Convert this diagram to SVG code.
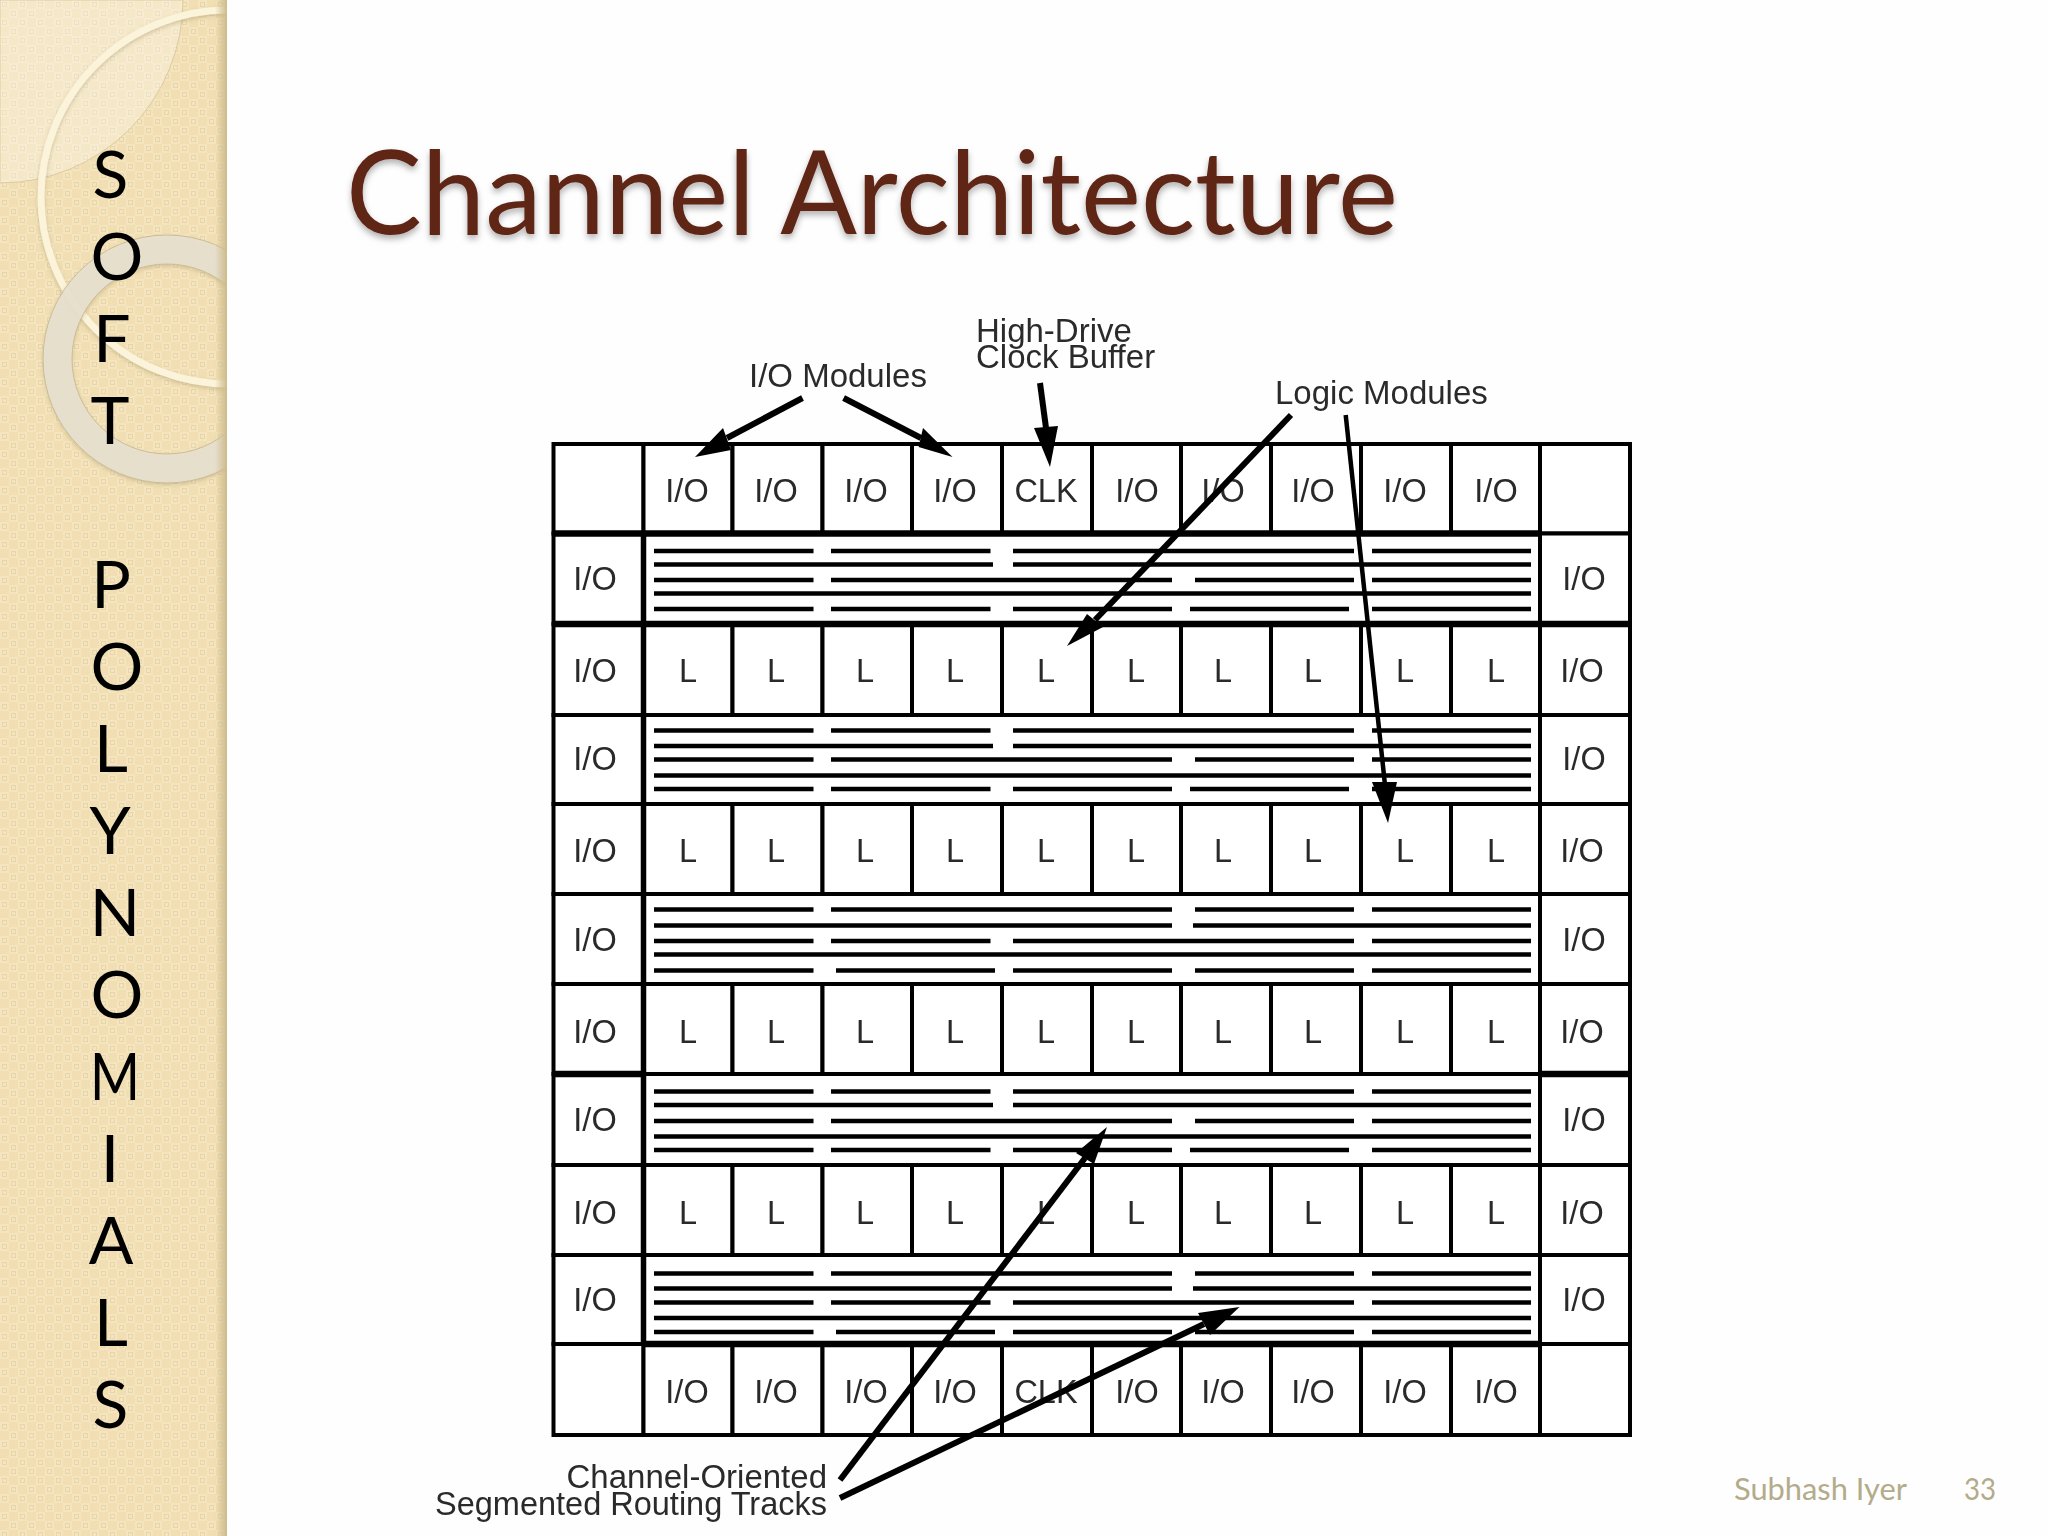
<svg xmlns="http://www.w3.org/2000/svg" width="2048" height="1536" viewBox="0 0 2048 1536">
<style>
.c{fill:#fff;stroke:#000;stroke-width:4}
.t{font-family:"Liberation Sans",Arial,sans-serif;font-size:32.5px;fill:#2b2b2b;text-anchor:middle}
.lab{font-family:"Liberation Sans",Arial,sans-serif;font-size:33px;fill:#2b2b2b}
.tr{stroke:#000;stroke-width:4.5;fill:none}
.hv{stroke:#000;fill:none}
.ar{stroke:#000;stroke-width:6;fill:none}
.hd{fill:#000}
.side{font-family:Lato,"Open Sans",sans-serif;font-size:66px;fill:#000;text-anchor:middle}
.foot{font-family:Lato,"Open Sans",sans-serif;font-size:31px;fill:#b3ab8a}
</style>
<defs>
<pattern id="tex" width="18" height="18" patternUnits="userSpaceOnUse">
<rect width="18" height="18" fill="#f1dfb3"/>
<rect width="9" height="9" fill="#f4e5c0"/>
<rect x="9" y="9" width="9" height="9" fill="#f4e5c0"/>
<rect x="2.5" y="2.5" width="4" height="4" fill="none" stroke="#e8d6a6" stroke-width="1"/>
<rect x="11.5" y="11.5" width="4" height="4" fill="none" stroke="#e8d6a6" stroke-width="1"/>
</pattern>
<linearGradient id="edge" x1="0" x2="1" y1="0" y2="0">
<stop offset="0" stop-color="#cdbb8c" stop-opacity="0"/>
<stop offset="1" stop-color="#cdbb8c"/>
</linearGradient>
<clipPath id="sb"><rect width="227" height="1536"/></clipPath>
<filter id="sh" x="-5%" y="-20%" width="110%" height="140%"><feDropShadow dx="0" dy="4" stdDeviation="3" flood-color="#000" flood-opacity=".3"/></filter>
<filter id="rs" x="-10%" y="-10%" width="120%" height="120%"><feDropShadow dx="0" dy="2" stdDeviation="2" flood-color="#8a7a50" flood-opacity=".35"/></filter>
<filter id="soft" x="0" y="0" width="100%" height="100%" filterUnits="userSpaceOnUse"><feGaussianBlur stdDeviation="0.6"/></filter>
</defs>
<rect width="2048" height="1536" fill="#fefefe"/>
<g id="sidebar" clip-path="url(#sb)">
<rect width="227" height="1536" fill="url(#tex)"/>
<path d="M0 0H183A183 183 0 0 1 0 183Z" fill="#fff" fill-opacity=".28" stroke="#dccb9f" stroke-width="1"/>
<circle cx="228" cy="197" r="187" fill="none" stroke="#fbf3da" stroke-width="7" filter="url(#rs)"/>
<circle cx="167" cy="359" r="109.5" fill="none" stroke="#e8e1d0" stroke-opacity=".9" stroke-width="29" filter="url(#rs)"/>
<circle cx="167" cy="359" r="124" fill="none" stroke="#cbbd96" stroke-width="1"/>
<circle cx="167" cy="359" r="95" fill="none" stroke="#cbbd96" stroke-width="1"/>
<rect x="215" width="12" height="1536" fill="url(#edge)"/>
</g>
<g id="sidebar-text">
<text class="side" x="110.5" y="198">S</text>
<text class="side" x="117" y="280">O</text>
<text class="side" x="112" y="362">F</text>
<text class="side" x="110" y="444">T</text>
<text class="side" x="111" y="608">P</text>
<text class="side" x="117" y="690">O</text>
<text class="side" x="111" y="772">L</text>
<text class="side" x="110" y="854">Y</text>
<text class="side" x="115" y="936">N</text>
<text class="side" x="117" y="1018">O</text>
<text class="side" x="115" y="1100" textLength="50" lengthAdjust="spacingAndGlyphs">M</text>
<text class="side" x="110" y="1182">I</text>
<text class="side" x="111" y="1264">A</text>
<text class="side" x="111" y="1346">L</text>
<text class="side" x="110.5" y="1428">S</text>
</g>
<text id="title" x="346" y="234" font-family="Lato,'Open Sans',sans-serif" font-size="116" fill="#5e2517" textLength="1052" lengthAdjust="spacingAndGlyphs" filter="url(#sh)">Channel Architecture</text>

<g id="diagram" filter="url(#soft)">
<g id="row-top">
<g id="t0"><rect class="c" x="553.5" y="444" width="90" height="89.5"/></g>
<g id="t1"><rect class="c" x="643.5" y="444" width="89" height="89.5"/><text class="t" x="687" y="502">I/O</text></g>
<g id="t2"><rect class="c" x="732.5" y="444" width="90" height="89.5"/><text class="t" x="776" y="502">I/O</text></g>
<g id="t3"><rect class="c" x="822.5" y="444" width="89.5" height="89.5"/><text class="t" x="866" y="502">I/O</text></g>
<g id="t4"><rect class="c" x="912" y="444" width="90" height="89.5"/><text class="t" x="955" y="502">I/O</text></g>
<g id="t5"><rect class="c" x="1002" y="444" width="90" height="89.5"/><text class="t" x="1046" y="502">CLK</text></g>
<g id="t6"><rect class="c" x="1092" y="444" width="89" height="89.5"/><text class="t" x="1137" y="502">I/O</text></g>
<g id="t7"><rect class="c" x="1181" y="444" width="90" height="89.5"/><text class="t" x="1223" y="502">I/O</text></g>
<g id="t8"><rect class="c" x="1271" y="444" width="90" height="89.5"/><text class="t" x="1313" y="502">I/O</text></g>
<g id="t9"><rect class="c" x="1361" y="444" width="90" height="89.5"/><text class="t" x="1405" y="502">I/O</text></g>
<g id="t10"><rect class="c" x="1451" y="444" width="89" height="89.5"/><text class="t" x="1496" y="502">I/O</text></g>
<g id="t11"><rect class="c" x="1540" y="444" width="90" height="89.5"/></g>
</g>

<g id="row-bottom">
<g id="b0"><rect class="c" x="553.5" y="1344" width="90" height="91"/></g>
<g id="b1"><rect class="c" x="643.5" y="1344" width="89" height="91"/><text class="t" x="687" y="1403">I/O</text></g>
<g id="b2"><rect class="c" x="732.5" y="1344" width="90" height="91"/><text class="t" x="776" y="1403">I/O</text></g>
<g id="b3"><rect class="c" x="822.5" y="1344" width="89.5" height="91"/><text class="t" x="866" y="1403">I/O</text></g>
<g id="b4"><rect class="c" x="912" y="1344" width="90" height="91"/><text class="t" x="955" y="1403">I/O</text></g>
<g id="b5"><rect class="c" x="1002" y="1344" width="90" height="91"/><text class="t" x="1046" y="1403">CLK</text></g>
<g id="b6"><rect class="c" x="1092" y="1344" width="89" height="91"/><text class="t" x="1137" y="1403">I/O</text></g>
<g id="b7"><rect class="c" x="1181" y="1344" width="90" height="91"/><text class="t" x="1223" y="1403">I/O</text></g>
<g id="b8"><rect class="c" x="1271" y="1344" width="90" height="91"/><text class="t" x="1313" y="1403">I/O</text></g>
<g id="b9"><rect class="c" x="1361" y="1344" width="90" height="91"/><text class="t" x="1405" y="1403">I/O</text></g>
<g id="b10"><rect class="c" x="1451" y="1344" width="89" height="91"/><text class="t" x="1496" y="1403">I/O</text></g>
<g id="b11"><rect class="c" x="1540" y="1344" width="90" height="91"/></g>
</g>

<g id="logic-row-1">
<g id="l1-0"><rect class="c" x="553.5" y="624" width="90" height="91"/><text class="t" x="595" y="682">I/O</text></g>
<g id="l1-1"><rect class="c" x="643.5" y="624" width="89" height="91"/><text class="t" x="688" y="682">L</text></g>
<g id="l1-2"><rect class="c" x="732.5" y="624" width="90" height="91"/><text class="t" x="776" y="682">L</text></g>
<g id="l1-3"><rect class="c" x="822.5" y="624" width="89.5" height="91"/><text class="t" x="865" y="682">L</text></g>
<g id="l1-4"><rect class="c" x="912" y="624" width="90" height="91"/><text class="t" x="955" y="682">L</text></g>
<g id="l1-5"><rect class="c" x="1002" y="624" width="90" height="91"/><text class="t" x="1046" y="682">L</text></g>
<g id="l1-6"><rect class="c" x="1092" y="624" width="89" height="91"/><text class="t" x="1136" y="682">L</text></g>
<g id="l1-7"><rect class="c" x="1181" y="624" width="90" height="91"/><text class="t" x="1223" y="682">L</text></g>
<g id="l1-8"><rect class="c" x="1271" y="624" width="90" height="91"/><text class="t" x="1313" y="682">L</text></g>
<g id="l1-9"><rect class="c" x="1361" y="624" width="90" height="91"/><text class="t" x="1405" y="682">L</text></g>
<g id="l1-10"><rect class="c" x="1451" y="624" width="89" height="91"/><text class="t" x="1496" y="682">L</text></g>
<g id="l1-11"><rect class="c" x="1540" y="624" width="90" height="91"/><text class="t" x="1582" y="682">I/O</text></g>
</g>
<g id="logic-row-2">
<g id="l2-0"><rect class="c" x="553.5" y="804" width="90" height="90"/><text class="t" x="595" y="862">I/O</text></g>
<g id="l2-1"><rect class="c" x="643.5" y="804" width="89" height="90"/><text class="t" x="688" y="862">L</text></g>
<g id="l2-2"><rect class="c" x="732.5" y="804" width="90" height="90"/><text class="t" x="776" y="862">L</text></g>
<g id="l2-3"><rect class="c" x="822.5" y="804" width="89.5" height="90"/><text class="t" x="865" y="862">L</text></g>
<g id="l2-4"><rect class="c" x="912" y="804" width="90" height="90"/><text class="t" x="955" y="862">L</text></g>
<g id="l2-5"><rect class="c" x="1002" y="804" width="90" height="90"/><text class="t" x="1046" y="862">L</text></g>
<g id="l2-6"><rect class="c" x="1092" y="804" width="89" height="90"/><text class="t" x="1136" y="862">L</text></g>
<g id="l2-7"><rect class="c" x="1181" y="804" width="90" height="90"/><text class="t" x="1223" y="862">L</text></g>
<g id="l2-8"><rect class="c" x="1271" y="804" width="90" height="90"/><text class="t" x="1313" y="862">L</text></g>
<g id="l2-9"><rect class="c" x="1361" y="804" width="90" height="90"/><text class="t" x="1405" y="862">L</text></g>
<g id="l2-10"><rect class="c" x="1451" y="804" width="89" height="90"/><text class="t" x="1496" y="862">L</text></g>
<g id="l2-11"><rect class="c" x="1540" y="804" width="90" height="90"/><text class="t" x="1582" y="862">I/O</text></g>
</g>
<g id="logic-row-3">
<g id="l3-0"><rect class="c" x="553.5" y="984" width="90" height="90"/><text class="t" x="595" y="1043">I/O</text></g>
<g id="l3-1"><rect class="c" x="643.5" y="984" width="89" height="90"/><text class="t" x="688" y="1043">L</text></g>
<g id="l3-2"><rect class="c" x="732.5" y="984" width="90" height="90"/><text class="t" x="776" y="1043">L</text></g>
<g id="l3-3"><rect class="c" x="822.5" y="984" width="89.5" height="90"/><text class="t" x="865" y="1043">L</text></g>
<g id="l3-4"><rect class="c" x="912" y="984" width="90" height="90"/><text class="t" x="955" y="1043">L</text></g>
<g id="l3-5"><rect class="c" x="1002" y="984" width="90" height="90"/><text class="t" x="1046" y="1043">L</text></g>
<g id="l3-6"><rect class="c" x="1092" y="984" width="89" height="90"/><text class="t" x="1136" y="1043">L</text></g>
<g id="l3-7"><rect class="c" x="1181" y="984" width="90" height="90"/><text class="t" x="1223" y="1043">L</text></g>
<g id="l3-8"><rect class="c" x="1271" y="984" width="90" height="90"/><text class="t" x="1313" y="1043">L</text></g>
<g id="l3-9"><rect class="c" x="1361" y="984" width="90" height="90"/><text class="t" x="1405" y="1043">L</text></g>
<g id="l3-10"><rect class="c" x="1451" y="984" width="89" height="90"/><text class="t" x="1496" y="1043">L</text></g>
<g id="l3-11"><rect class="c" x="1540" y="984" width="90" height="90"/><text class="t" x="1582" y="1043">I/O</text></g>
</g>
<g id="logic-row-4">
<g id="l4-0"><rect class="c" x="553.5" y="1165" width="90" height="90"/><text class="t" x="595" y="1224">I/O</text></g>
<g id="l4-1"><rect class="c" x="643.5" y="1165" width="89" height="90"/><text class="t" x="688" y="1224">L</text></g>
<g id="l4-2"><rect class="c" x="732.5" y="1165" width="90" height="90"/><text class="t" x="776" y="1224">L</text></g>
<g id="l4-3"><rect class="c" x="822.5" y="1165" width="89.5" height="90"/><text class="t" x="865" y="1224">L</text></g>
<g id="l4-4"><rect class="c" x="912" y="1165" width="90" height="90"/><text class="t" x="955" y="1224">L</text></g>
<g id="l4-5"><rect class="c" x="1002" y="1165" width="90" height="90"/><text class="t" x="1046" y="1224">L</text></g>
<g id="l4-6"><rect class="c" x="1092" y="1165" width="89" height="90"/><text class="t" x="1136" y="1224">L</text></g>
<g id="l4-7"><rect class="c" x="1181" y="1165" width="90" height="90"/><text class="t" x="1223" y="1224">L</text></g>
<g id="l4-8"><rect class="c" x="1271" y="1165" width="90" height="90"/><text class="t" x="1313" y="1224">L</text></g>
<g id="l4-9"><rect class="c" x="1361" y="1165" width="90" height="90"/><text class="t" x="1405" y="1224">L</text></g>
<g id="l4-10"><rect class="c" x="1451" y="1165" width="89" height="90"/><text class="t" x="1496" y="1224">L</text></g>
<g id="l4-11"><rect class="c" x="1540" y="1165" width="90" height="90"/><text class="t" x="1582" y="1224">I/O</text></g>
</g>

<g id="channel-1">
<g id="c1-l"><rect class="c" x="553.5" y="533.5" width="90" height="90.5"/><text class="t" x="595" y="590">I/O</text></g>
<g id="c1-r"><rect class="c" x="1540" y="533.5" width="90" height="90.5"/><text class="t" x="1584" y="590">I/O</text></g>
<g id="c1-m"><rect class="c" x="643.5" y="533.5" width="896.5" height="90.5"/>
<path class="tr" d="M654 551H813.5M831 551H990.5M1013 551H1354M1372 551H1531M654 564.5H993M1013 564.5H1531M654 580H813.5M831 580H1172M1195 580H1354M1372 580H1531M654 593.5H1531M654 609H813.5M831 609H990.5M1013 609H1172M1190 609H1349M1372 609H1531"/></g>
</g>
<g id="channel-2">
<g id="c2-l"><rect class="c" x="553.5" y="715" width="90" height="89"/><text class="t" x="595" y="770">I/O</text></g>
<g id="c2-r"><rect class="c" x="1540" y="715" width="90" height="89"/><text class="t" x="1584" y="770">I/O</text></g>
<g id="c2-m"><rect class="c" x="643.5" y="715" width="896.5" height="89"/>
<path class="tr" d="M654 730.5H813.5M831 730.5H990.5M1013 730.5H1354M1372 730.5H1531M654 746H993M1013 746H1531M654 759.5H813.5M831 759.5H1172M1195 759.5H1354M1372 759.5H1531M654 775.5H1531M654 789H813.5M831 789H990.5M1013 789H1172M1190 789H1349M1372 789H1531"/></g>
</g>
<g id="channel-3">
<g id="c3-l"><rect class="c" x="553.5" y="894" width="90" height="90"/><text class="t" x="595" y="951">I/O</text></g>
<g id="c3-r"><rect class="c" x="1540" y="894" width="90" height="90"/><text class="t" x="1584" y="951">I/O</text></g>
<g id="c3-m"><rect class="c" x="643.5" y="894" width="896.5" height="90"/>
<path class="tr" d="M654 909.5H813.5M831 909.5H1172M1195 909.5H1354M1372 909.5H1531M654 925.5H1172M1193 925.5H1531M654 941H813.5M831 941H990.5M1013 941H1354M1372 941H1531M654 954.5H1531M654 970.5H813.5M836 970.5H995M1013 970.5H1172M1195 970.5H1354M1372 970.5H1531"/></g>
</g>
<g id="channel-4">
<g id="c4-l"><rect class="c" x="553.5" y="1074" width="90" height="91"/><text class="t" x="595" y="1131">I/O</text></g>
<g id="c4-r"><rect class="c" x="1540" y="1074" width="90" height="91"/><text class="t" x="1584" y="1131">I/O</text></g>
<g id="c4-m"><rect class="c" x="643.5" y="1074" width="896.5" height="91"/>
<path class="tr" d="M654 1091.5H813.5M831 1091.5H990.5M1013 1091.5H1354M1372 1091.5H1531M654 1105H993M1013 1105H1531M654 1121H813.5M831 1121H1172M1195 1121H1354M1372 1121H1531M654 1136.5H1531M654 1150H813.5M831 1150H990.5M1013 1150H1172M1190 1150H1349M1372 1150H1531"/></g>
</g>
<g id="channel-5">
<g id="c5-l"><rect class="c" x="553.5" y="1255" width="90" height="89"/><text class="t" x="595" y="1311">I/O</text></g>
<g id="c5-r"><rect class="c" x="1540" y="1255" width="90" height="89"/><text class="t" x="1584" y="1311">I/O</text></g>
<g id="c5-m"><rect class="c" x="643.5" y="1255" width="896.5" height="89"/>
<path class="tr" d="M654 1273.5H813.5M831 1273.5H1172M1195 1273.5H1354M1372 1273.5H1531M654 1288.5H1172M1193 1288.5H1531M654 1302.5H813.5M831 1302.5H990.5M1013 1302.5H1354M1372 1302.5H1531M654 1318H1531M654 1332H813.5M836 1332H995M1013 1332H1172M1195 1332H1354M1372 1332H1531"/></g>
</g>
<g id="heavy-rules">
<path class="hv" stroke-width="6.5" d="M552 533.5H1540M552 624H1632M552 1074H643.5M1540 1074H1632M643.5 1344H1540"/>
<path class="hv" stroke-width="5.5" d="M643.5 533V1344"/>
</g>

<g id="labels">
<text class="lab" x="749" y="387">I/O Modules</text>
<text class="lab" x="976" y="342">High-Drive</text>
<text class="lab" x="976" y="368">Clock Buffer</text>
<text class="lab" x="1275" y="404">Logic Modules</text>
<text class="lab" x="827" y="1488" text-anchor="end">Channel-Oriented</text>
<text class="lab" x="827" y="1515" text-anchor="end" font-size="32.5" style="font-size:32.5px">Segmented Routing Tracks</text>
</g>
<g id="connectors">
<path class="ar" d="M802.5 398L727 438"/><polygon class="hd" points="695,457 723,428 731,450"/>
<path class="ar" d="M843.6 398L921 438"/><polygon class="hd" points="952.5,457 923,428 918.6,447"/>
<path class="ar" d="M1040 383L1046 428"/><polygon class="hd" points="1050,467 1034,428 1058,426"/>
<path class="ar" d="M1291 415L1095 620"/><polygon class="hd" points="1067,646 1087,614 1103,627"/>
<path class="ar" style="stroke-width:4.5" d="M1345.7 415L1385 785"/><polygon class="hd" points="1388,823 1372,782 1397,782"/>
<path class="ar" d="M840 1480L1085 1158"/><polygon class="hd" points="1107,1127 1076,1153 1094,1164"/>
<path class="ar" d="M840 1498L1204 1324"/><polygon class="hd" points="1239.5,1307 1198,1313 1210,1335"/>
</g>
</g>
<g id="footer">
<text class="foot" x="1734" y="1500" textLength="173" lengthAdjust="spacingAndGlyphs">Subhash Iyer</text>
<text class="foot" x="1964" y="1500" textLength="32" lengthAdjust="spacingAndGlyphs">33</text>
</g>
</svg>
